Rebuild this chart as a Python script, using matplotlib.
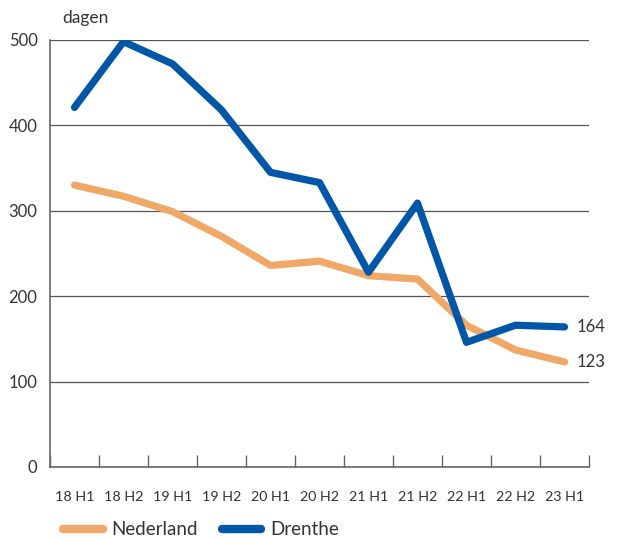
import numpy as np
import matplotlib
matplotlib.use('agg')
import matplotlib.pyplot as plt
from matplotlib.lines import Line2D

periods = ["18 H1", "18 H2", "19 H1", "19 H2", "20 H1", "20 H2",
           "21 H1", "21 H2", "22 H1", "22 H2", "23 H1"]
nederland = [330, 317, 299, 270, 236, 241, 224, 220, 166, 137, 123]
drenthe = [421, 498, 472, 418, 345, 333, 228, 309, 146, 166, 164]

c_nl = "#F0A868"
c_dr = "#0057A8"
txt = "#333333"
grey = "#666666"

plt.rcParams['font.family'] = ['Lato', 'DejaVu Sans']

fig = plt.figure(figsize=(6.19, 5.40), dpi=100)
ax = fig.add_axes([0.0808, 0.1352, 0.8707, 0.7908])

x = np.arange(len(periods))
ax.plot(x, nederland, color=c_nl, lw=5.2, solid_capstyle='round', solid_joinstyle='round', zorder=3)
ax.plot(x, drenthe, color=c_dr, lw=5.2, solid_capstyle='round', solid_joinstyle='round', zorder=4)

ax.set_xlim(-0.5, len(periods) - 0.5)
ax.set_ylim(0, 500)
ax.set_yticks([0, 100, 200, 300, 400, 500])
ax.yaxis.grid(True, color="#555555", lw=0.9)
ax.set_axisbelow(True)

ax.set_xticks(x)
ax.set_xticklabels(periods, fontsize=10.3, color=txt)
ax.tick_params(axis='x', which='major', length=0, pad=17)
ax.set_xticks(np.arange(-0.5, len(periods)), minor=True)
ax.tick_params(axis='x', which='minor', direction='in', length=9, width=1, color=grey)
ax.tick_params(axis='y', length=0, pad=9, labelsize=12, labelcolor=txt)

for s in ['top', 'right']:
    ax.spines[s].set_visible(False)
for s in ['left', 'bottom']:
    ax.spines[s].set_color(grey)
    ax.spines[s].set_linewidth(1.2)

ax.annotate(str(drenthe[-1]), (x[-1], drenthe[-1]), xytext=(9, 0), textcoords='offset points',
            va='center', ha='left', fontsize=12, color=txt)
ax.annotate(str(nederland[-1]), (x[-1], nederland[-1]), xytext=(9, 0), textcoords='offset points',
            va='center', ha='left', fontsize=12, color=txt)

fig.text(0.1, 0.967, "dagen", fontsize=12.5, color=txt, ha='left', va='center')

handles = [Line2D([0], [0], color=c_nl, lw=6, solid_capstyle='round'),
           Line2D([0], [0], color=c_dr, lw=6, solid_capstyle='round')]
fig.legend(handles, ["Nederland", "Drenthe"], loc='lower left', bbox_to_anchor=(0.075, -0.028),
           ncol=2, frameon=False, fontsize=13.5, handlelength=2.1, columnspacing=1.3,
           handletextpad=0.45, labelcolor=txt)

fig.savefig("out.png", dpi=100)
